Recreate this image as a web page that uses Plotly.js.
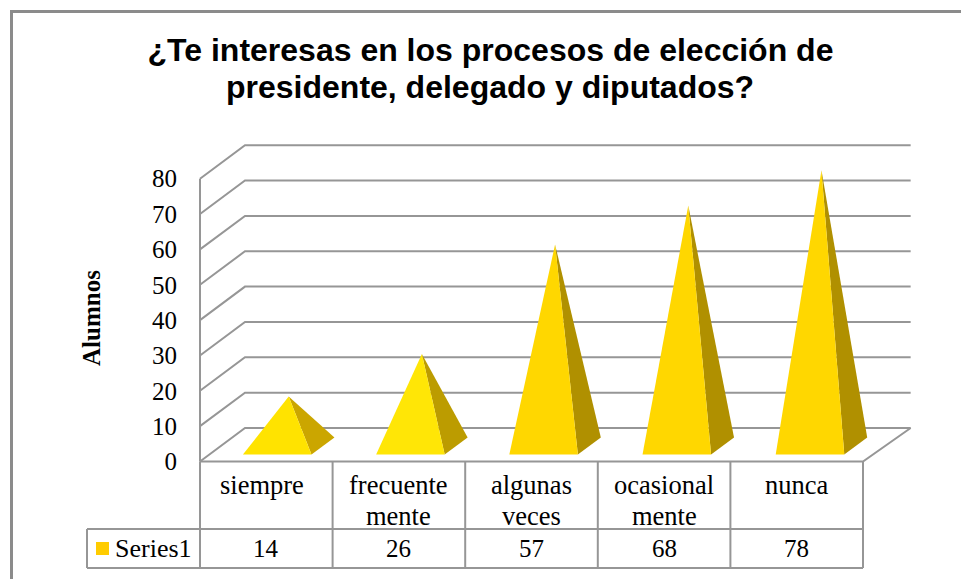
<!DOCTYPE html>
<html>
<head>
<meta charset="utf-8">
<script src="https://cdn.plot.ly/plotly-3.0.1.min.js"></script>
<style>html,body{margin:0;padding:0;background:#fff}#c{width:961px;height:579px}</style>
</head>
<body>
<div id="c"></div>
<script>
// ---- data ----
const categories = ["siempre", "frecuente<br>mente", "algunas<br>veces", "ocasional<br>mente", "nunca"];
const seriesName = "Series1";
const values = [14, 26, 57, 68, 78];
const yTicks = [0, 10, 20, 30, 40, 50, 60, 70, 80];
const titleLine1 = "¿Te interesas en los procesos de elección de";
const titleLine2 = "presidente, delegado y diputados?";
const yTitle = "Alumnos";

// ---- styles ----
const frontColors = ["#FFE300", "#FFE606", "#FFD700", "#FFD700", "#FFD700"];
const sideColors = ["#CBA600", "#BC9C00", "#B09000", "#B09000", "#B09000"];
const gridColor = "#969696";
const serif = "Liberation Serif, Times New Roman, serif";
const sans = "Liberation Sans, Arial, sans-serif";

// ---- oblique projection, expressed in axis units ----
const W = 961, H = 579;
const unitX = 132.6, unitY = 3.535, x0 = 200, y0 = 461.5;
const depthX = 45 / unitX, depthY = 33.5 / unitY;
const backRight = 5.02;
const X = (u, d) => u + d * depthX;
const Y = (v, d) => v + d * depthY;
const xRange = [-x0 / unitX, (W - x0) / unitX];
const yRange = [(y0 - H) / unitY, y0 / unitY];
const rowBottom1 = (y0 - 529) / unitY;
const rowBottom2 = (y0 - 568) / unitY;
const legendLeft = (87 - x0) / unitX;

const traces = [];

// walls: gridlines running from the front-left edge to the back wall
const gx = [], gy = [];
yTicks.forEach(t => {
  gx.push(X(0, 0), X(0, 1), backRight + depthX, null);
  gy.push(Y(t, 0), Y(t, 1), Y(t, 1), null);
});
gx.push(X(0, 0), X(0, 0), null);
gy.push(Y(0, 0), Y(yTicks[yTicks.length - 1], 0), null);
gx.push(X(0, 0), X(categories.length, 0), backRight + depthX, null);
gy.push(Y(0, 0), Y(0, 0), Y(0, 1), null);
traces.push({x: gx, y: gy, mode: "lines", line: {color: gridColor, width: 2}, hoverinfo: "skip", showlegend: false});

// pyramids
const halfBase = 0.2585, dFront = 0.21, dBack = 0.72, dMid = (dFront + dBack) / 2;
values.forEach((v, i) => {
  const c = i + 0.511 + 0.0045 * i;
  const apex = [X(c, dMid), Y(v, dMid)];
  traces.push({
    x: [X(c + halfBase, dFront), X(c + halfBase, dBack), apex[0], X(c + halfBase, dFront)],
    y: [Y(0, dFront), Y(0, dBack), apex[1], Y(0, dFront)],
    mode: "lines", fill: "toself", fillcolor: sideColors[i], line: {width: 0, color: sideColors[i]},
    hoverinfo: "skip", showlegend: false
  });
  traces.push({
    x: [X(c - halfBase, dFront), X(c + halfBase, dFront), apex[0], X(c - halfBase, dFront)],
    y: [Y(0, dFront), Y(0, dFront), apex[1], Y(0, dFront)],
    mode: "lines", fill: "toself", fillcolor: frontColors[i], line: {width: 0, color: frontColors[i]},
    name: seriesName, hoverinfo: "skip", showlegend: false
  });
});

// data table lines
const tx = [], ty = [];
for (let i = 0; i <= categories.length; i++) {
  tx.push(i, i, null); ty.push(0, rowBottom2, null);
}
tx.push(legendLeft, categories.length, null, legendLeft, categories.length, null, legendLeft, legendLeft, null);
ty.push(rowBottom1, rowBottom1, null, rowBottom2, rowBottom2, null, rowBottom1, rowBottom2, null);
traces.push({x: tx, y: ty, mode: "lines", line: {color: gridColor, width: 2}, hoverinfo: "skip", showlegend: false});

// legend key
const rowMid = (rowBottom1 + rowBottom2) / 2;
traces.push({x: [(102.5 - x0) / unitX], y: [rowMid], mode: "markers",
  marker: {symbol: "square", size: 13, color: "#FFCC00"}, hoverinfo: "skip", showlegend: false});

const annotations = [];
const line1Y = (y0 - 485) / unitY, line2Y = (y0 - 516) / unitY;
categories.forEach((c, i) => {
  c.split("<br>").forEach((part, k) => {
    annotations.push({x: i + 0.5, y: k === 0 ? line1Y : line2Y, text: part, showarrow: false,
      xanchor: "center", yanchor: "middle", xshift: i === 0 ? -4 : 0,
      font: {family: serif, size: 26.5, color: "#000"}});
  });
  annotations.push({x: i + 0.5, y: rowMid, text: String(values[i]), showarrow: false,
    xanchor: "center", yanchor: "middle", font: {family: serif, size: 25, color: "#000"}});
});
annotations.push({x: (113 - x0) / unitX, y: rowMid, text: seriesName, showarrow: false, xanchor: "left", yanchor: "middle",
  font: {family: serif, size: 26, color: "#000"}});
annotations.push({xref: "paper", yref: "paper", x: 91 / W, y: 1 - 318 / H, text: "<b>" + yTitle + "</b>", textangle: -90,
  showarrow: false, xanchor: "center", yanchor: "middle", font: {family: serif, size: 25, color: "#000"}});
annotations.push({xref: "paper", yref: "paper", x: 490 / W, y: 1 - 87 / H, text: "<b>" + titleLine2 + "</b>",
  showarrow: false, xanchor: "center", yanchor: "middle", font: {family: sans, size: 32, color: "#000"}});

const layout = {
  width: W, height: H,
  margin: {l: 0, r: 0, t: 0, b: 0, pad: 0},
  paper_bgcolor: "#fff", plot_bgcolor: "rgba(0,0,0,0)",
  showlegend: false,
  title: {text: "<b>" + titleLine1 + "</b>", x: 490.5 / W, xanchor: "center", y: 1 - 50 / H, yanchor: "middle",
    font: {family: sans, size: 32, color: "#000"}},
  xaxis: {range: xRange, visible: false, fixedrange: true},
  yaxis: {range: yRange, tickvals: yTicks, ticktext: yTicks.map(String), anchor: "free", position: x0 / W,
    showgrid: false, zeroline: false, showline: false, ticks: "", ticklabelstandoff: 23,
    tickfont: {family: serif, size: 25, color: "#000"}, fixedrange: true},
  annotations: annotations,
  shapes: [
    {type: "line", xref: "paper", yref: "paper", x0: 11.5 / W, x1: 11.5 / W, y0: 0, y1: 1 - 10 / H, line: {color: "#8b8b8b", width: 3}},
    {type: "line", xref: "paper", yref: "paper", x0: 10 / W, x1: 1, y0: 1 - 11.5 / H, y1: 1 - 11.5 / H, line: {color: "#8b8b8b", width: 3}}
  ]
};
Plotly.newPlot("c", traces, layout, {displayModeBar: false, staticPlot: true});
</script>
</body>
</html>
